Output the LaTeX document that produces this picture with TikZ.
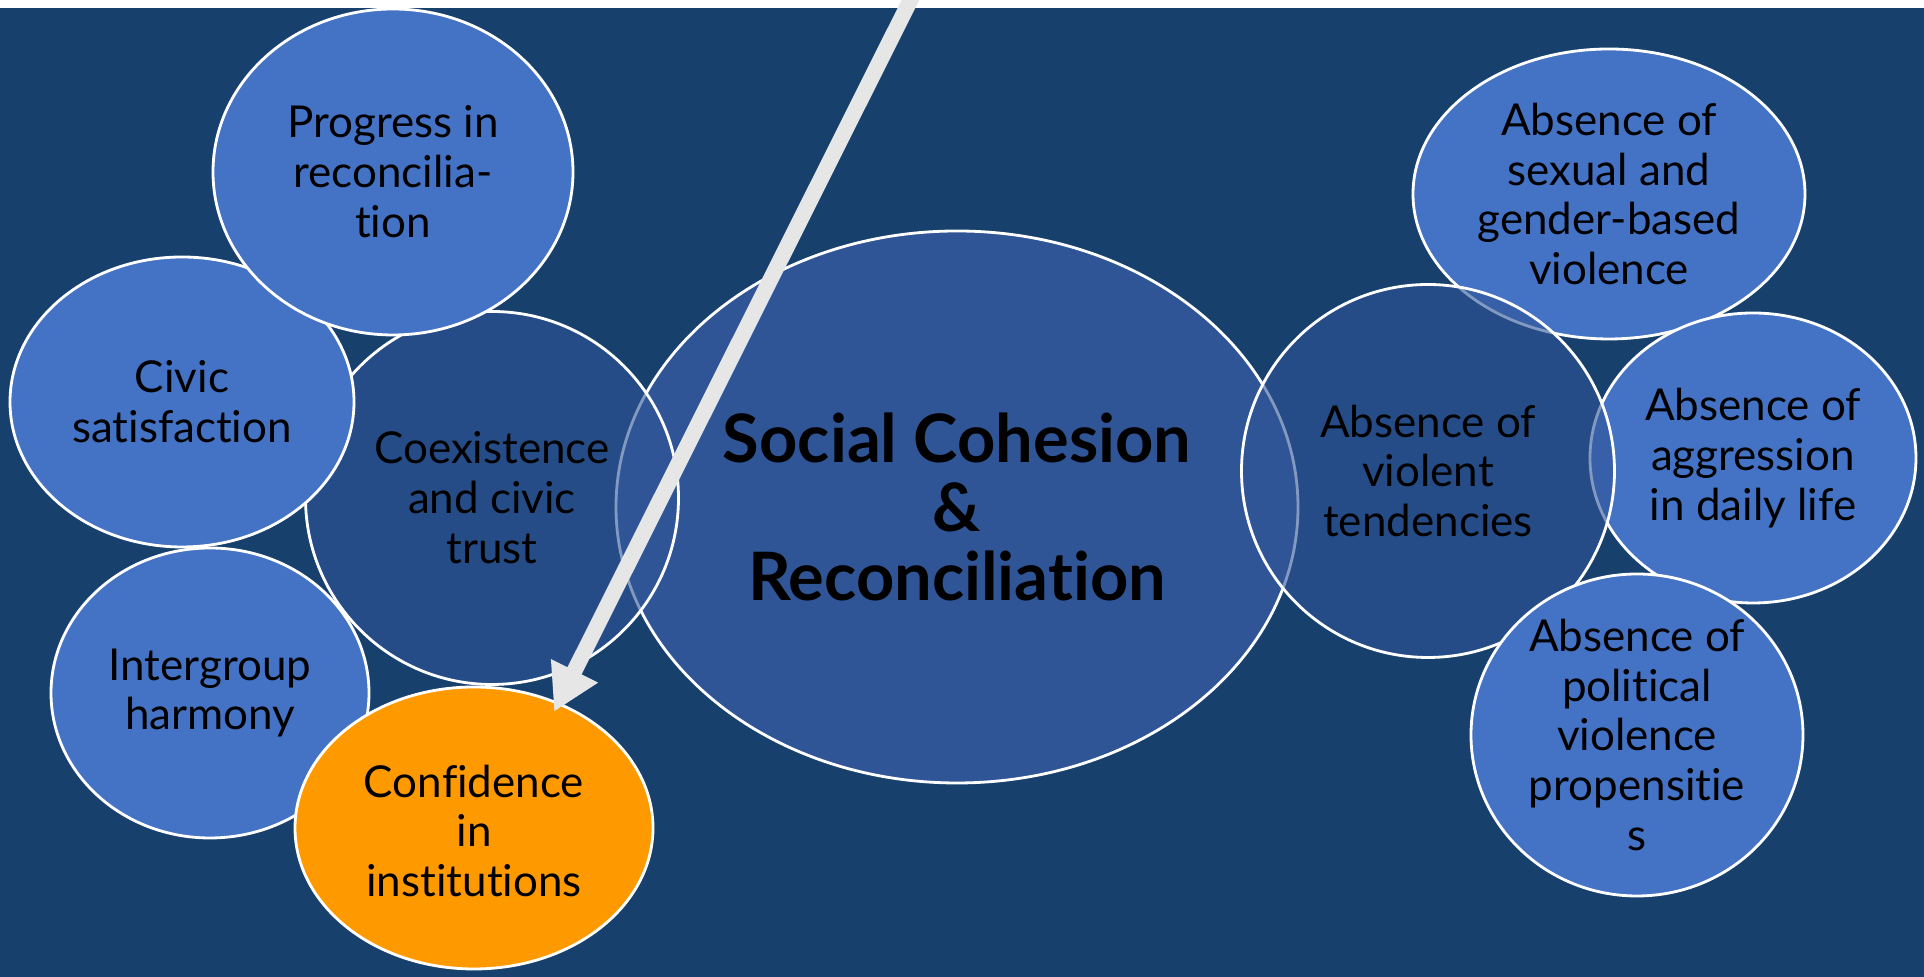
\documentclass[tikz,border=0pt]{standalone}
\usepackage{fontspec}
\setmainfont{Lato}[Ligatures=NoCommon]
\usetikzlibrary{arrows.meta,positioning,shapes.geometric}
\definecolor{navy}{HTML}{17406D}
\definecolor{outerblue}{HTML}{4472C4}
\definecolor{midblue}{HTML}{2F5597}
\definecolor{confOrange}{HTML}{FF9900}
\definecolor{arrowgrey}{HTML}{E6E6E6}
\tikzset{
    >={Triangle[length=13pt,width=14pt]},
    font=\fontsize{12.5}{14.2}\selectfont,
    bubble/.style={ellipse,draw=white,line width=0.8pt,inner sep=0pt},
    outer bubble/.style={bubble,fill=outerblue},
    inner bubble/.style={bubble,fill=midblue,fill opacity=0.6},
    words/.style={align=center,text=black,inner sep=0pt},
    pointer/.style={->,draw=arrowgrey,line width=4.5pt}
}

\begin{document}
\begin{tikzpicture}
    \useasboundingbox (0,0) rectangle (19.24,-9.77);
    \fill[white] (0,0) rectangle (19.24,-0.08);
    \fill[navy] (0,-0.08) rectangle (19.24,-9.77);
    % centre
    \node[bubble,fill=midblue,minimum width=6.82cm,minimum height=5.52cm] (core) at (9.57,-5.07) {};
    \node[words,font=\bfseries\fontsize{19}{19.5}\selectfont] (core-t) at (core) {Social Cohesion\\\&\\Reconciliation};
    % right side
    \node[outer bubble,minimum width=3.92cm,minimum height=2.9cm] (sexual) at (16.09,-1.94) {};
    \node[words] (sexual-t) at (sexual) {Absence of\\sexual and\\gender-based\\violence};
    \node[outer bubble,minimum width=3.26cm,minimum height=2.9cm] (aggr) at (17.53,-4.58) {};
    \node[words] (aggr-t) at (aggr) {Absence of\\aggression\\in daily life};
    \node[inner bubble,minimum size=3.73cm] (violent) at (14.28,-4.71) {};
    \node[words] (violent-t) at (violent) {Absence of\\violent\\tendencies};
    \node[outer bubble,minimum width=3.32cm,minimum height=3.22cm] (polit) at (16.37,-7.35) {};
    \node[words] (polit-t) at (polit) {Absence of\\political\\violence\\propensitie\\s};
    % left side
    \node[inner bubble,minimum size=3.73cm] (coex) at (4.92,-4.98) {};
    \node[words] (coex-t) at (coex) {Coexistence\\and civic\\trust};
    \node[outer bubble,minimum width=3.44cm,minimum height=2.9cm] (civic) at (1.82,-4.02) {};
    \node[words] (civic-t) at (civic) {Civic\\satisfaction};
    \node[outer bubble,minimum width=3.6cm,minimum height=3.26cm] (prog) at (3.93,-1.72) {};
    \node[words] (prog-t) at (prog) {Progress in\\reconcilia-\\tion};
    \node[outer bubble,minimum width=3.18cm,minimum height=2.9cm] (inter) at (2.10,-6.93) {};
    \node[words] (inter-t) at (inter) {Intergroup\\harmony};
    \node[bubble,fill=confOrange,minimum width=3.58cm,minimum height=2.82cm] (conf) at (4.74,-8.28) {};
    \node[words] (conf-t) at ([yshift=-0.03cm]conf) {Confidence\\in\\institutions};
    % pointer
    \coordinate (arrowtop) at (9.13,0.05);
    \draw[pointer,shorten >=-3pt] (arrowtop) -- (conf.56);
\end{tikzpicture}
\end{document}
